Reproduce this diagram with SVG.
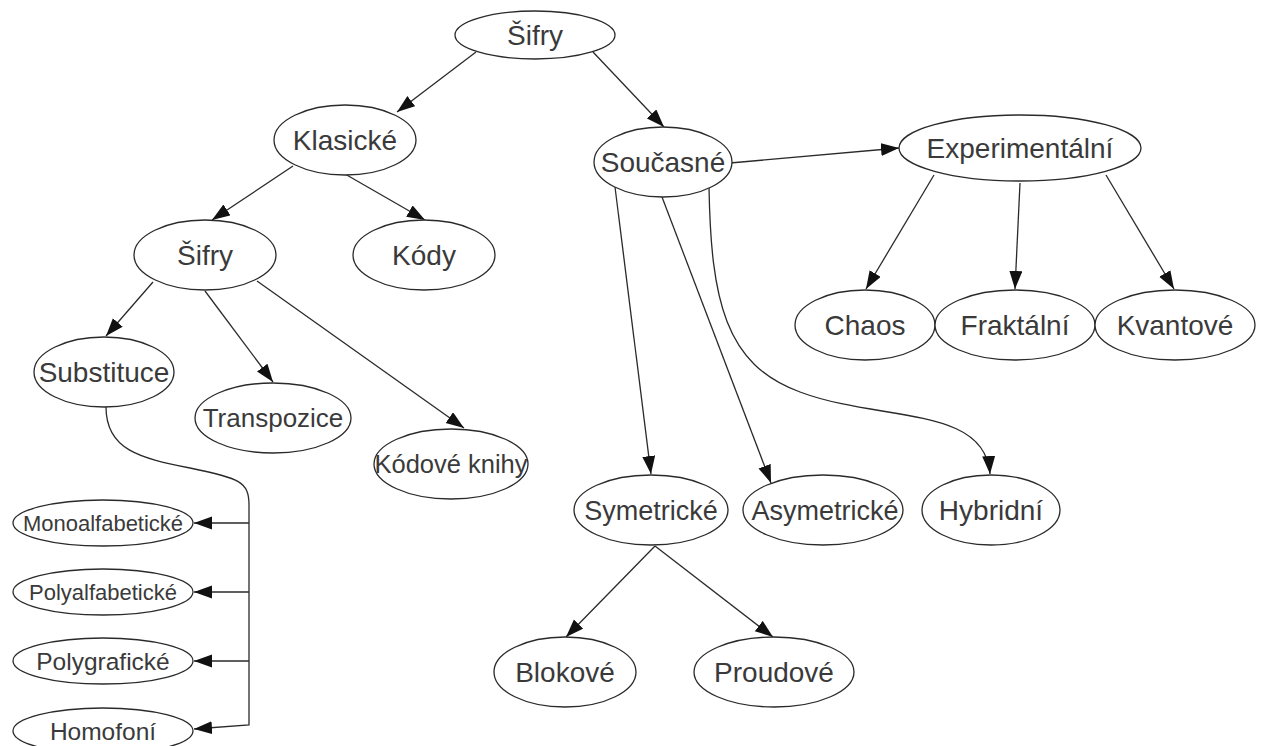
<svg xmlns="http://www.w3.org/2000/svg" width="1264" height="746" viewBox="0 0 1264 746">
  <style>
    .node ellipse { fill: #ffffff; stroke: #2a2a2a; stroke-width: 1.3; }
    .node text { font-family: "Liberation Sans", Arial, sans-serif; font-size: 28px; fill: #3a3a3a; text-anchor: middle; }
    .edges path, .edges line { fill: none; stroke: #2a2a2a; stroke-width: 1.3; marker-end: url(#arrow); }
  </style>
  <defs>
    <marker id="arrow" markerUnits="userSpaceOnUse" markerWidth="19" markerHeight="14" refX="18" refY="6.5" orient="auto">
      <path d="M0,0 L18,6.5 L0,13 Z" fill="#111111"/>
    </marker>
  </defs>
  <rect width="1264" height="746" fill="#ffffff"/>

  <g class="edges" id="connectors">
    <line x1="476" y1="52" x2="397" y2="112"/>
    <line x1="593" y1="52" x2="664" y2="127"/>
    <line x1="293" y1="166" x2="212" y2="220"/>
    <line x1="345" y1="174" x2="425" y2="220"/>
    <line x1="153" y1="282" x2="106" y2="336"/>
    <line x1="205" y1="291" x2="273" y2="382"/>
    <line x1="257" y1="281" x2="464" y2="428"/>
    <path d="M106,407 C106,450 140,458 190,468 C240,478 249,482 249,505 L249,725 L194,729"/>
    <line x1="249" y1="523" x2="194" y2="523"/>
    <line x1="249" y1="592" x2="194" y2="592"/>
    <line x1="249" y1="661" x2="194" y2="661"/>
    <line x1="730" y1="163" x2="899" y2="148"/>
    <line x1="615" y1="187" x2="651" y2="474"/>
    <line x1="662" y1="197" x2="771" y2="483"/>
    <path d="M709,187 C711,300 725,365 800,392 C880,422 985,405 990,474"/>
    <line x1="934" y1="175" x2="866" y2="289"/>
    <line x1="1020" y1="183" x2="1015" y2="289"/>
    <line x1="1106" y1="175" x2="1174" y2="289"/>
    <line x1="655" y1="546" x2="566" y2="637"/>
    <line x1="655" y1="546" x2="773" y2="637"/>
  </g>

  <g class="node" id="n-sifry-root"><ellipse cx="535" cy="35" rx="80" ry="24"/><text x="535" y="45">Šifry</text></g>
  <g class="node" id="n-klasicke"><ellipse cx="345" cy="140" rx="71" ry="35"/><text x="345" y="150">Klasické</text></g>
  <g class="node" id="n-soucasne"><ellipse cx="663" cy="162" rx="69" ry="35"/><text x="663" y="172">Současné</text></g>
  <g class="node" id="n-experimentalni"><ellipse cx="1020" cy="148" rx="121" ry="33"/><text x="1020" y="158">Experimentální</text></g>
  <g class="node" id="n-sifry"><ellipse cx="205" cy="255" rx="71" ry="35"/><text x="205" y="265">Šifry</text></g>
  <g class="node" id="n-kody"><ellipse cx="424" cy="255" rx="71" ry="35"/><text x="424" y="265">Kódy</text></g>
  <g class="node" id="n-chaos"><ellipse cx="865" cy="325" rx="70" ry="35"/><text x="865" y="335">Chaos</text></g>
  <g class="node" id="n-fraktalni"><ellipse cx="1015" cy="325" rx="80" ry="35"/><text x="1015" y="335">Fraktální</text></g>
  <g class="node" id="n-kvantove"><ellipse cx="1175" cy="325" rx="80" ry="35"/><text x="1175" y="335">Kvantové</text></g>
  <g class="node" id="n-substituce"><ellipse cx="104" cy="372" rx="70" ry="35"/><text x="104" y="382">Substituce</text></g>
  <g class="node" id="n-transpozice"><ellipse cx="273" cy="418" rx="78" ry="35"/><text x="273" y="427" style="font-size:26px">Transpozice</text></g>
  <g class="node" id="n-kodove-knihy"><ellipse cx="451" cy="464" rx="77" ry="35"/><text x="451" y="473" style="font-size:25.5px">Kódové knihy</text></g>
  <g class="node" id="n-symetricke"><ellipse cx="651" cy="510" rx="77" ry="35"/><text x="651" y="520" style="font-size:27px">Symetrické</text></g>
  <g class="node" id="n-asymetricke"><ellipse cx="823" cy="510" rx="80" ry="35"/><text x="825" y="520" style="font-size:27px">Asymetrické</text></g>
  <g class="node" id="n-hybridni"><ellipse cx="991" cy="510" rx="69" ry="35"/><text x="991" y="520">Hybridní</text></g>
  <g class="node" id="n-blokove"><ellipse cx="565" cy="672" rx="71" ry="35"/><text x="565" y="682">Blokové</text></g>
  <g class="node" id="n-proudove"><ellipse cx="774" cy="672" rx="80" ry="35"/><text x="774" y="682">Proudové</text></g>
  <g class="node" id="n-monoalfabeticke"><ellipse cx="103" cy="523" rx="90" ry="23"/><text x="103" y="531" style="font-size:22px">Monoalfabetické</text></g>
  <g class="node" id="n-polyalfabeticke"><ellipse cx="103" cy="592" rx="90" ry="23"/><text x="103" y="600" style="font-size:22px">Polyalfabetické</text></g>
  <g class="node" id="n-polygraficke"><ellipse cx="103" cy="661" rx="90" ry="23"/><text x="103" y="670" style="font-size:24.5px">Polygrafické</text></g>
  <g class="node" id="n-homofoni"><ellipse cx="103" cy="731" rx="90" ry="23"/><text x="103" y="740" style="font-size:24.5px">Homofoní</text></g>
</svg>
